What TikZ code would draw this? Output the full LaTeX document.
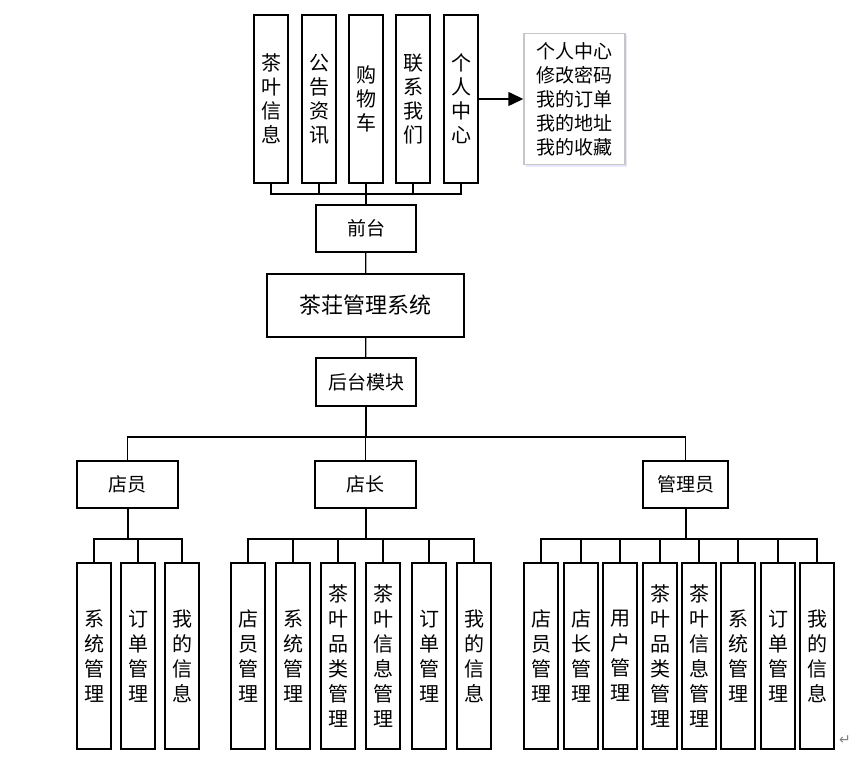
\documentclass[tikz,border=0pt]{standalone}
\usepackage{fontspec}
\setmainfont{Noto Sans CJK SC}
\newfontfamily\symfont{DejaVu Sans}
\usetikzlibrary{
  arrows.meta, % Triangle 箭头
  shadows      % 说明框阴影
}
\tikzset{
  module box/.style={
    draw,
    line width=1.2pt,
    inner sep=0pt,
    minimum width=100pt,
    minimum height=47pt,
    font=\fontsize{19}{24}\selectfont
  },
  top box/.style={
    draw,
    line width=1.2pt,
    inner sep=0pt,
    minimum width=34pt,
    minimum height=168pt,
    align=center,
    font=\fontsize{20}{24}\selectfont
  },
  leaf box/.style={
    draw,
    line width=1.2pt,
    inner sep=0pt,
    minimum width=34pt,
    minimum height=186pt,
    align=center,
    font=\fontsize{20}{25}\selectfont
  },
  note box/.style={
    draw=gray!45,
    line width=1.5pt,
    fill=white,
    drop shadow={shadow xshift=2pt, shadow yshift=-2pt, fill=blue!12, opacity=0.8},
    inner sep=0pt,
    minimum width=101pt,
    minimum height=131pt,
    align=left,
    font=\fontsize{19}{24}\selectfont
  },
  link/.style={
    line width=1.2pt
  },
  stem/.style={
    line width=2pt
  },
  ray/.style={
    -{Triangle[length=15pt,width=14pt]},
    line width=1.5pt
  }
}

\begin{document}
\begin{tikzpicture}[x=1pt, y=-1pt] % 以像素为单位，y 轴向下

  \useasboundingbox (0,0) rectangle (858,770); % 固定画面大小

  % 前台五个模块
  \node[top box] (tea-info) at (271,99) {茶\\叶\\信\\息};
  \node[top box] (notice)   at (319,99) {公\\告\\资\\讯};
  \node[top box] (cart)     at (366,99) {购\\物\\车};
  \node[top box] (contact)  at (413,99) {联\\系\\我\\们};
  \node[top box] (center)   at (461,99) {个\\人\\中\\心};

  % 个人中心的说明框
  \node[note box] (note) at (574.5,99) {个人中心\\修改密码\\我的订单\\我的地址\\我的收藏};
  \draw[ray] (center.east) -- (note.west);

  % 中间主干
  \node[module box] (front) at (366,228.5) {前台};
  \node[module box, minimum width=197pt, minimum height=63pt, font=\fontsize{22}{26}\selectfont] (system) at (365.5,305.5) {茶荘管理系统};
  \node[module box, minimum height=48pt] (back) at (366,382) {后台模块};

  \coordinate (front-bus) at (366,194); % 前台上方的汇线
  \foreach \n in {tea-info, notice, cart, contact, center}
    \draw[link] (\n.south) |- (front-bus);
  \draw[link] (front-bus) -- (front.north);
  \draw[link] (front) -- (system);
  \draw[link] (system) -- (back);

  % 三种角色
  \node[module box, minimum width=101pt] (clerk)   at (127.5,484.5) {店员};
  \node[module box, minimum width=101pt] (manager) at (365.5,484.5) {店长};
  \node[module box, minimum width=85pt]  (admin)   at (685.5,484.5) {管理员};

  \coordinate (role-bus) at (366,437); % 角色上方的汇线
  \draw[stem] (back.south) -- (role-bus);
  \foreach \n in {clerk, manager, admin}
    \draw[link] (role-bus) -| (\n.north);

  % 店员的功能
  \foreach \x/\t [count=\i] in {94/系\\统\\管\\理, 138/订\\单\\管\\理, 182/我\\的\\信\\息}
    \node[leaf box] (clerk-\i) at (\x,656) {\t};
  \coordinate (clerk-bus) at (127.5,539);
  \draw[stem] (clerk.south) -- (clerk-bus);
  \foreach \i in {1,...,3}
    \draw[link] (clerk-bus) -| (clerk-\i.north);

  % 店长的功能
  \foreach \x/\t [count=\i] in {248/店\\员\\管\\理, 293/系\\统\\管\\理, 338/茶\\叶\\品\\类\\管\\理,
                                383/茶\\叶\\信\\息\\管\\理, 429/订\\单\\管\\理, 474/我\\的\\信\\息}
    \node[leaf box] (manager-\i) at (\x,656) {\t};
  \coordinate (manager-bus) at (365.5,539);
  \draw[stem] (manager.south) -- (manager-bus);
  \foreach \i in {1,...,6}
    \draw[link] (manager-bus) -| (manager-\i.north);

  % 管理员的功能
  \foreach \x/\t [count=\i] in {541/店\\员\\管\\理, 581/店\\长\\管\\理, 620/用\\户\\管\\理,
                                660/茶\\叶\\品\\类\\管\\理, 699/茶\\叶\\信\\息\\管\\理,
                                738/系\\统\\管\\理, 778/订\\单\\管\\理, 817/我\\的\\信\\息}
    \node[leaf box] (admin-\i) at (\x,656) {\t};
  \coordinate (admin-bus) at (685.5,539);
  \draw[stem] (admin.south) -- (admin-bus);
  \foreach \i in {1,...,8}
    \draw[link] (admin-bus) -| (admin-\i.north);

  % 段落标记
  \node[text=gray, font=\symfont\fontsize{14}{14}\selectfont, inner sep=0pt] (para-mark) at (845,740) {↵};

\end{tikzpicture}
\end{document}
